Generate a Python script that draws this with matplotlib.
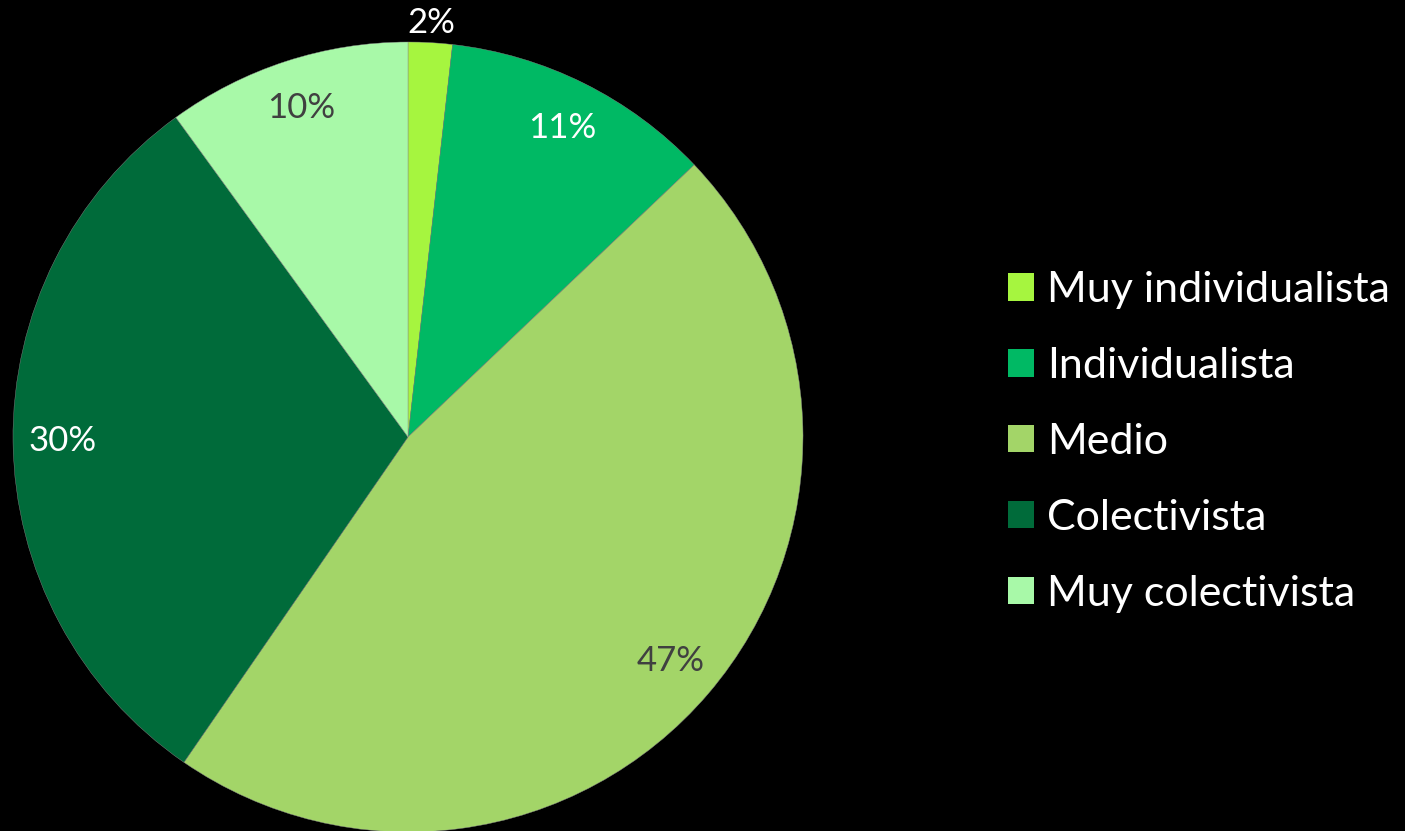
import matplotlib.pyplot as plt
from matplotlib.patches import Patch

plt.rcParams['font.family'] = ['Lato', 'DejaVu Sans']

categories = ['Muy individualista', 'Individualista', 'Medio', 'Colectivista', 'Muy colectivista']
values = [1.8, 11.1, 46.7, 30.4, 10.0]
colors = ['#A6F53F', '#00B964', '#A3D568', '#006B3A', '#A8F9A8']
label_colors = ['white', 'white', '#404040', 'white', '#404040']

W, H = 1405, 831
fig = plt.figure(figsize=(W / 100, H / 100), dpi=100, facecolor='black')

# pie centre (408, 437) px, radius 395 px
cx, cy, r = 408, 437, 395
ax = fig.add_axes([(cx - r) / W, (H - cy - r) / H, 2 * r / W, 2 * r / H])
ax.set_facecolor('black')

wedges, texts, pcts = ax.pie(values, colors=colors, startangle=90, counterclock=False,
                             autopct='%.0f%%', pctdistance=0.875,
                             wedgeprops=dict(linewidth=0.3, edgecolor='#888888'),
                             textprops=dict(fontsize=25))
for t, c in zip(pcts, label_colors):
    t.set_color(c)

# smallest slice label sits just outside the pie
x, y = pcts[0].get_position()
pcts[0].set_position((x * 1.05 / 0.875, y * 1.05 / 0.875))

ax.set_xlim(-1, 1)
ax.set_ylim(-1, 1)
ax.set_aspect('equal')
ax.axis('off')

handles = [Patch(facecolor=c, edgecolor='none') for c in colors]
fig.legend(handles, categories, loc='center left', bbox_to_anchor=(1008 / W, (H - 442) / H),
           frameon=False, fontsize=31, labelcolor='white', handlelength=0.6, handleheight=0.6,
           handletextpad=0.3, labelspacing=0.88, borderpad=0, borderaxespad=0)

fig.savefig('out.png', dpi=100, facecolor='black')
